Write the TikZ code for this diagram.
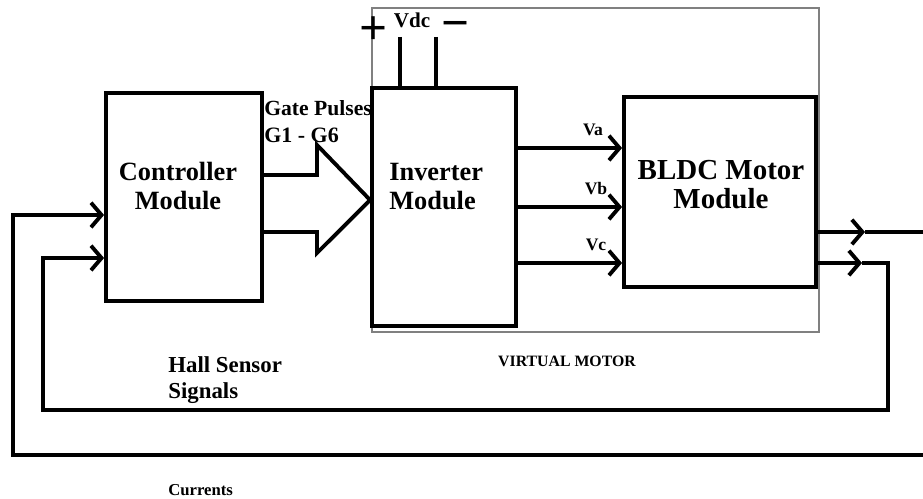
\documentclass[tikz,border=0pt]{standalone}
\usepackage{fontspec}
\setmainfont{Liberation Serif}
\usetikzlibrary{arrows.meta,positioning}
\tikzset{
  modbox/.style={draw, line width=2.2pt, inner sep=0pt},
  modtext/.style={font=\fontsize{15}{16.5}\selectfont\bfseries, align=center, inner sep=0pt},
  smalltext/.style={font=\fontsize{10}{12}\selectfont\bfseries, inner sep=0pt},
  signtext/.style={font=\fontsize{28}{28}\selectfont\bfseries, inner sep=0pt},
  wire/.style={line width=2.2pt},
  chevarrow/.style={wire, -{Straight Barb[length=6pt,width=14pt]}},
  vmframe/.style={draw=gray, line width=0.6pt},
}
\begin{document}
\begin{tikzpicture}[x=0.02cm, y=-0.02cm]
  \useasboundingbox (0,0) rectangle (923,499);

  % Virtual motor frame
  \draw[vmframe] (372,8) rectangle (819,332);

  % Modules
  \node[modbox, minimum width=3.12cm, minimum height=4.16cm] (ctrl) at (184,197) {};
  \node[modbox, minimum width=2.88cm, minimum height=4.76cm] (inv) at (444,207) {};
  \node[modbox, minimum width=3.84cm, minimum height=3.8cm] (bldc) at (720,192) {};
  \node[modtext] (ctrltxt) at (178,186) {Controller\\Module};
  \node[modtext, align=left, anchor=west] (invtxt) at (389,187) {Inverter\\Module};
  \node[modtext, font=\fontsize{16.5}{16.5}\selectfont\bfseries] (bldctxt) at (721,185) {BLDC Motor\\Module};

  % DC supply
  \node[smalltext, font=\fontsize{12}{14}\selectfont\bfseries] (vdc) at (412,20) {Vdc};
  \node[signtext] (plus) at (374,31) {+};
  \node[signtext] (minus) at (456,30) {−};
  \coordinate (vp) at (400,37);
  \coordinate (vn) at (436,37);
  \draw[wire] (vp) -- (vp |- inv.north);
  \draw[wire] (vn) -- (vn |- inv.north);

  % Gate pulses
  \node[smalltext, font=\fontsize{12.3}{13}\selectfont\bfseries, anchor=west] (gp) at (264,108) {Gate Pulses};
  \node[smalltext, font=\fontsize{12.5}{15}\selectfont\bfseries, anchor=west] (g16) at (264,135) {G1 - G6};
  \draw[wire] (ctrl.east |- 0,175) -- (317,175) -- (317,145) -- (inv.west |- 0,200)
    -- (317,253) -- (317,232) -- (ctrl.east |- 0,232);

  % Phase voltages
  \foreach \y/\lbl/\lx in {148/Va/593, 207/Vb/596, 263/Vc/596} {
    \draw[chevarrow] (inv.east |- 0,\y) -- (bldc.west |- 0,\y);
    \node[smalltext] (lbl\lbl) at (\lx,\y-18) {\lbl};
  }

  % Feedback: currents
  \coordinate (curout) at (923,232);
  \coordinate (curin) at (923,455);
  \coordinate (curtip) at (865,232);
  \draw[chevarrow] (bldc.east |- curout) -- (curtip);
  \draw[wire] (curtip) -- (curout);
  \draw[chevarrow] (curin) -- (13,455) -- (13,215) -- (ctrl.west |- 0,215);

  % Feedback: hall sensor signals
  \coordinate (halltip) at (862,263);
  \draw[chevarrow] (bldc.east |- halltip) -- (halltip);
  \draw[chevarrow] (halltip) -| (888,410) -| (43,258) -- (ctrl.west |- 0,258);

  % Labels
  \node[smalltext, font=\fontsize{13}{14.7}\selectfont\bfseries, align=left, anchor=west] (hall) at (168,380) {Hall Sensor\\Signals};
  \node[smalltext, font=\fontsize{9}{11}\selectfont\bfseries] (vmlbl) at (567,361) {VIRTUAL MOTOR};
  \node[smalltext, font=\fontsize{9.5}{11}\selectfont\bfseries, anchor=west] (cur) at (168,490) {Currents};
\end{tikzpicture}
\end{document}
